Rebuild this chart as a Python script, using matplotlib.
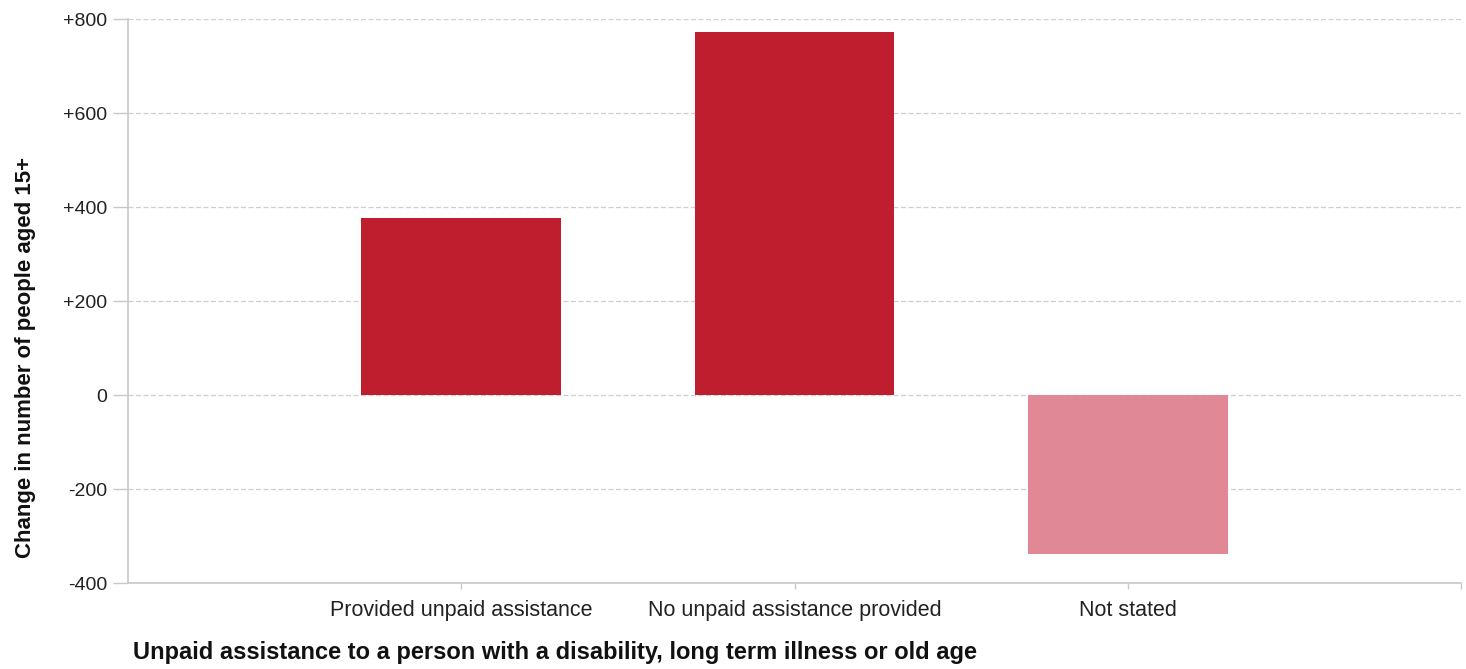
import matplotlib.pyplot as plt

# data
categories = ['Provided unpaid assistance', 'No unpaid assistance provided', 'Not stated']
changes = [376, 772, -339]
bar_colours = ['#BE1E2D', '#BE1E2D', '#E08896']
y_ticks = [-400, -200, 0, 200, 400, 600, 800]
y_tick_labels = ['-400', '-200', '0', '+200', '+400', '+600', '+800']

plt.rcParams['font.family'] = ['Liberation Sans', 'DejaVu Sans']

fig = plt.figure(figsize=(14.66, 6.69), dpi=100)
ax = fig.add_axes([128 / 1466, 1 - 583 / 669, (1461 - 128) / 1466, (583 - 19) / 669])

pos = [1, 2, 3]
ax.bar(pos, changes, width=0.6, color=bar_colours, zorder=3)

ax.set_xlim(0, 4)
ax.set_ylim(-400, 800)
ax.set_yticks(y_ticks)
ax.set_yticklabels(y_tick_labels)
ax.set_xticks(pos + [4])
ax.set_xticklabels(categories + [''])

ax.grid(axis='y', linestyle=(0, (4, 2)), color='#CFCFCF', linewidth=0.9, zorder=0)
for side in ['top', 'right']:
    ax.spines[side].set_visible(False)
for side in ['left', 'bottom']:
    ax.spines[side].set_color('#C8C8C8')
    ax.spines[side].set_linewidth(1.2)

ax.tick_params(axis='y', length=11, width=1, color='#C8C8C8', pad=4,
               labelsize=14, labelcolor='#222222')
ax.tick_params(axis='x', length=4, width=1, color='#C8C8C8', pad=8,
               labelsize=15.5, labelcolor='#222222')

fig.text(133 / 1466, 1 - 653 / 669, 'Unpaid assistance to a person with a disability, long term illness or old age',
         fontsize=17, fontweight='bold', color='#111111', ha='left', va='center')
fig.text(26 / 1466, 1 - 357 / 669, 'Change in number of people aged 15+',
         fontsize=16, fontweight='bold', color='#111111', rotation=90, ha='center', va='center')

fig.savefig('out.png', dpi=100)
